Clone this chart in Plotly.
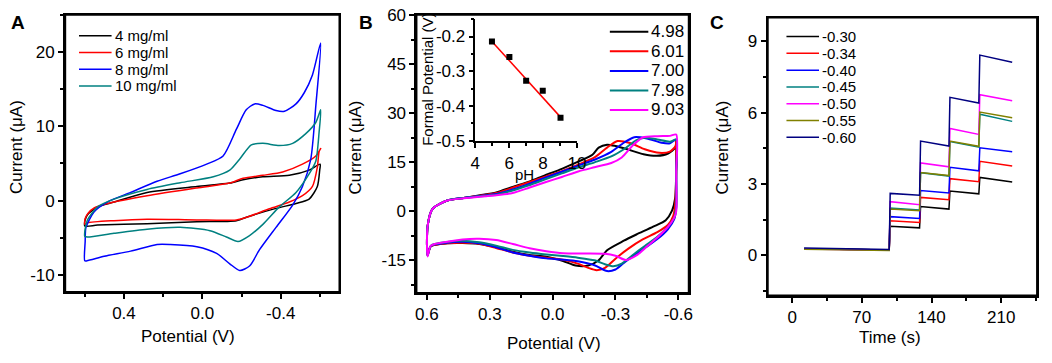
import plotly.graph_objects as go

W, H = 1052, 363
FONT = "Liberation Sans, Arial, Helvetica, sans-serif"

# ---------------- Panel A : CV at different concentrations ----------------
a_labels = ["4 mg/ml", "6 mg/ml", "8 mg/ml", "10 mg/ml"]

a_x_4 = [0.6, 0.598, 0.586, 0.535, 0.451, 0.282, 0.028, -0.14, -0.208, -0.309, -0.444, -0.545, -0.601,
         -0.599, -0.587, -0.545, -0.478, -0.376, -0.241, -0.174, 0.028, 0.282, 0.535, 0.6]
a_y_4 = [-3.4, -2.6, -1.9, -0.85, -0.2, 1.1, 1.9, 2.35, 2.8, 3.2, 3.4, 4.1, 4.9,
         4.1, 1.9, 0.2, -0.4, -1.05, -2.1, -2.7, -2.85, -3.1, -3.3, -3.4]

a_x_6 = [0.6, 0.598, 0.583, 0.552, 0.485, 0.282, 0.028, -0.14, -0.208, -0.309, -0.41, -0.511, -0.579, -0.604,
         -0.596, -0.587, -0.562, -0.511, -0.444, -0.342, -0.241, -0.174, 0.028, 0.282, 0.451, 0.586, 0.6]
a_y_6 = [-3.2, -2.4, -1.7, -1.0, -0.4, 0.65, 1.7, 2.35, 3.0, 3.4, 3.85, 4.9, 6.0, 7.0,
         6.6, 4.5, 1.9, 0.65, -0.2, -1.1, -2.1, -2.6, -2.6, -2.5, -2.7, -3.0, -3.2]

a_x_8 = [0.6, 0.598, 0.594, 0.552, 0.485, 0.366, 0.231, 0.113, -0.022, -0.106, -0.174, -0.224, -0.267,
         -0.309, -0.376, -0.419, -0.478, -0.52, -0.562, -0.604, -0.58, -0.553, -0.511, -0.461, -0.376,
         -0.292, -0.241, -0.191, -0.14, -0.073, 0.028, 0.164, 0.231, 0.366, 0.501, 0.589, 0.6]
a_y_8 = [-8.1, -5.5, -3.6, -1.5, -0.2, 1.1, 2.6, 3.6, 4.9, 6.0, 9.6, 12.2, 13.0,
         12.8, 12.1, 12.0, 13.0, 14.5, 16.9, 21.2, 13.0, 5.5, 1.9, -0.6, -3.6,
         -6.6, -8.8, -9.4, -8.5, -7.1, -6.2, -5.9, -5.9, -6.8, -7.5, -8.1, -8.1]

a_x_10 = [0.6, 0.598, 0.586, 0.535, 0.451, 0.282, 0.113, -0.056, -0.14, -0.191, -0.25, -0.309, -0.393,
          -0.461, -0.528, -0.579, -0.604, -0.596, -0.579, -0.545, -0.478, -0.393, -0.309, -0.241, -0.182,
          -0.123, -0.039, 0.113, 0.282, 0.451, 0.586, 0.6]
a_y_10 = [-4.8, -3.8, -2.6, -0.85, 0.2, 1.5, 2.4, 3.2, 4.1, 5.6, 7.5, 7.7, 7.4,
          7.7, 9.0, 10.5, 12.2, 9.2, 5.3, 3.6, 1.1, -0.85, -3.2, -4.7, -5.5,
          -4.9, -4.05, -3.6, -3.85, -4.4, -4.9, -4.8]

a_xtick_vals = [0.4, 0.0, -0.4]
a_xtick_text = ["0.4", "0.0", "-0.4"]
a_ytick_vals = [-10, 0, 10, 20]
a_ytick_text = ["-10", "0", "10", "20"]

# ---------------- Panel B : CV at different pH ----------------
b_labels = ["4.98", "6.01", "7.00", "7.98", "9.03"]

b_x_498 = [0.597, 0.597, 0.574, 0.503, 0.425, 0.347, 0.269, 0.191, 0.113, 0.035, -0.044, -0.122, -0.19,
           -0.22, -0.26, -0.3, -0.356, -0.434, -0.497, -0.551, -0.587, -0.59,
           -0.59, -0.585, -0.57, -0.54, -0.48, -0.40, -0.34, -0.26, -0.22, -0.17, -0.11, -0.05,
           0.03, 0.11, 0.19, 0.27, 0.35, 0.43, 0.503, 0.581, 0.597]
b_y_498 = [-13.4, -4.7, 0.7, 3.3, 4.1, 4.9, 5.8, 7.5, 9.1, 11.1, 13.0, 15.2, 17.3,
           19.5, 20.4, 20.0, 19.0, 17.5, 17.0, 17.7, 19.6, 21.5,
           12.8, 4.0, 0.2, -2.7, -4.7, -7.1, -9.0, -11.9, -15.0, -16.6, -16.6, -15.2,
           -13.9, -13.4, -12.4, -11.0, -10.0, -9.7, -9.8, -10.7, -13.4]

b_x_601 = [0.597, 0.597, 0.574, 0.503, 0.425, 0.347, 0.269, 0.191, 0.113, 0.035, -0.044, -0.122, -0.2,
           -0.26, -0.31, -0.37, -0.44, -0.51, -0.56, -0.587, -0.59,
           -0.59, -0.585, -0.575, -0.55, -0.5, -0.43, -0.36, -0.3, -0.25, -0.21, -0.17, -0.12, -0.05,
           0.03, 0.11, 0.19, 0.27, 0.35, 0.43, 0.503, 0.581, 0.597]
b_y_601 = [-13.4, -4.7, 0.7, 3.3, 4.1, 4.8, 5.6, 7.2, 8.9, 10.6, 12.3, 14.3, 16.5,
           19.5, 21.5, 20.9, 19.0, 17.9, 18.3, 20.0, 21.8,
           12.0, 2.0, -1.5, -4.2, -6.4, -8.6, -11.5, -14.5, -17.3, -18.0, -17.3, -16.0, -14.8,
           -14.2, -13.6, -12.6, -11.2, -9.9, -9.6, -9.8, -10.7, -13.4]

b_x_700 = [0.597, 0.597, 0.574, 0.503, 0.425, 0.347, 0.269, 0.191, 0.113, 0.035, -0.044, -0.122, -0.2,
           -0.28, -0.34, -0.39, -0.45, -0.52, -0.56, -0.59,
           -0.59, -0.59, -0.58, -0.55, -0.5, -0.44, -0.40, -0.34, -0.30, -0.26, -0.2, -0.12, -0.05,
           0.03, 0.11, 0.19, 0.27, 0.35, 0.43, 0.503, 0.581, 0.597]
b_y_700 = [-13.5, -4.7, 0.7, 3.3, 4.1, 4.7, 5.3, 6.7, 8.4, 10.3, 12.1, 14.0, 15.8,
           18.2, 21.0, 22.7, 22.3, 21.0, 20.8, 22.0,
           12.0, 1.0, -2.5, -5.5, -8.5, -11.2, -13.0, -15.8, -17.8, -18.3, -16.5, -15.3, -14.8,
           -14.4, -13.6, -12.6, -11.0, -9.8, -9.3, -9.6, -10.6, -13.5]

b_x_798 = [0.597, 0.597, 0.574, 0.503, 0.425, 0.347, 0.269, 0.191, 0.113, 0.035, -0.044, -0.122, -0.2,
           -0.28, -0.34, -0.40, -0.44, -0.50, -0.56, -0.59,
           -0.59, -0.59, -0.58, -0.55, -0.5, -0.44, -0.38, -0.33, -0.29, -0.25, -0.2, -0.12, -0.05,
           0.03, 0.11, 0.19, 0.27, 0.35, 0.43, 0.503, 0.581, 0.597]
b_y_798 = [-13.6, -4.7, 0.7, 3.3, 4.1, 4.6, 5.1, 6.4, 8.0, 9.8, 11.6, 13.4, 15.0,
           16.8, 19.0, 21.8, 22.5, 22.0, 21.3, 22.0,
           12.0, 1.5, -2.0, -4.8, -7.8, -10.6, -13.5, -16.0, -16.8, -16.2, -15.0, -14.2, -13.7,
           -13.2, -12.6, -11.8, -10.5, -9.5, -9.0, -9.4, -10.5, -13.6]

b_x_903 = [0.597, 0.597, 0.574, 0.503, 0.425, 0.347, 0.269, 0.191, 0.113, 0.035, -0.044, -0.122, -0.2,
           -0.28, -0.33, -0.38, -0.43, -0.50, -0.56, -0.59,
           -0.59, -0.59, -0.58, -0.55, -0.5, -0.45, -0.40, -0.35, -0.30, -0.25, -0.15, -0.05,
           0.03, 0.11, 0.19, 0.27, 0.35, 0.43, 0.503, 0.581, 0.597]
b_y_903 = [-13.8, -4.7, 0.7, 3.3, 4.0, 4.5, 4.9, 5.6, 7.2, 8.9, 10.5, 12.2, 13.5,
           14.8, 16.5, 20.0, 22.6, 23.0, 23.1, 23.5,
           12.0, 0.0, -2.0, -4.8, -8.0, -10.8, -13.5, -14.9, -13.6, -13.0, -12.9, -12.8,
           -12.2, -11.3, -10.0, -8.8, -8.4, -8.6, -9.3, -10.5, -13.8]

b_xtick_vals = [0.6, 0.3, 0.0, -0.3, -0.6]
b_xtick_text = ["0.6", "0.3", "0.0", "-0.3", "-0.6"]
b_ytick_vals = [-15, 0, 15, 30, 45, 60]
b_ytick_text = ["-15", "0", "15", "30", "45", "60"]

# Inset of panel B : formal potential vs pH
inset_ph = [4.98, 6.01, 7.00, 7.98, 9.03]
inset_e = [-0.214, -0.259, -0.327, -0.356, -0.434]
inset_fit_ph = [4.98, 9.03]
inset_fit_e = [-0.214, -0.432]
inset_xtick_vals = [4, 6, 8, 10]
inset_xtick_text = ["4", "6", "8", "10"]
inset_ytick_vals = [-0.5, -0.4, -0.3, -0.2]
inset_ytick_text = ["-0.5", "-0.4", "-0.3", "-0.2"]

# ---------------- Panel C : amperometric steps ----------------
c_labels = ["-0.30", "-0.34", "-0.40", "-0.45", "-0.50", "-0.55", "-0.60"]
c_time = [12, 97.5, 98.5, 128, 129, 157.5, 158.5, 187.5, 188.5, 221]
c_030 = [0.27, 0.22, 1.22, 1.15, 2.05, 1.94, 2.70, 2.58, 3.27, 3.08]
c_034 = [0.27, 0.22, 1.45, 1.38, 2.43, 2.33, 3.22, 3.09, 3.95, 3.75]
c_040 = [0.27, 0.22, 1.62, 1.54, 2.72, 2.62, 3.70, 3.55, 4.52, 4.35]
c_045 = [0.27, 0.22, 1.98, 1.90, 3.47, 3.33, 4.78, 4.55, 5.93, 5.63]
c_050 = [0.26, 0.21, 2.25, 2.12, 3.88, 3.72, 5.33, 5.08, 6.75, 6.50]
c_055 = [0.25, 0.20, 1.94, 1.87, 3.48, 3.35, 4.80, 4.58, 6.02, 5.78]
c_060 = [0.30, 0.24, 2.60, 2.52, 4.80, 4.59, 6.64, 6.40, 8.42, 8.12]
c_xtick_vals = [0, 70, 140, 210]
c_xtick_text = ["0", "70", "140", "210"]
c_ytick_vals = [0, 3, 6, 9]
c_ytick_text = ["0", "3", "6", "9"]

# ---------------- styling ----------------
a_colors = ["#000000", "#ff0000", "#0000ff", "#008080"]
b_colors = ["#000000", "#ff0000", "#0000ff", "#008080", "#ff00ff"]
c_colors = ["#000000", "#ff0000", "#0000ff", "#008080", "#ff00ff", "#808000", "#000080"]

fig = go.Figure()

a_series = [(a_x_4, a_y_4), (a_x_6, a_y_6), (a_x_8, a_y_8), (a_x_10, a_y_10)]
for (xs, ys), col, lab in zip(a_series, a_colors, a_labels):
    fig.add_trace(go.Scatter(x=xs, y=ys, mode="lines", name=lab, xaxis="x", yaxis="y",
                             line=dict(color=col, width=1.5, shape="spline", smoothing=0.7),
                             showlegend=False))

b_series = [(b_x_498, b_y_498), (b_x_601, b_y_601), (b_x_700, b_y_700), (b_x_798, b_y_798), (b_x_903, b_y_903)]
for (xs, ys), col, lab in zip(b_series, b_colors, b_labels):
    fig.add_trace(go.Scatter(x=xs, y=ys, mode="lines", name=lab, xaxis="x2", yaxis="y2",
                             line=dict(color=col, width=2, shape="spline", smoothing=0.7),
                             showlegend=False))

c_series = [c_030, c_034, c_040, c_045, c_050, c_055, c_060]
for ys, col, lab in zip(c_series, c_colors, c_labels):
    fig.add_trace(go.Scatter(x=c_time, y=ys, mode="lines", name=lab, xaxis="x3", yaxis="y3",
                             line=dict(color=col, width=1.5), showlegend=False))

fig.add_trace(go.Scatter(x=inset_fit_ph, y=inset_fit_e, mode="lines", xaxis="x4", yaxis="y4",
                         line=dict(color="#ff0000", width=1.5), showlegend=False))
fig.add_trace(go.Scatter(x=inset_ph, y=inset_e, mode="markers", xaxis="x4", yaxis="y4",
                         marker=dict(symbol="square", size=6, color="black"), showlegend=False))


def axis(domain, anchor, rng, tv, tt, minor_dtick, mirror=True, lw=2, fs=17):
    return dict(domain=domain, anchor=anchor, range=rng,
                showline=True, linecolor="black", linewidth=lw, mirror=mirror,
                ticks="outside", ticklen=5, tickwidth=1.5, ticklabeloverflow="allow",
                tickcolor="black", showgrid=False, zeroline=False, tickmode="array",
                tickvals=tv, ticktext=tt,
                tickfont=dict(size=fs, color="black", family=FONT),
                minor=dict(ticks="outside", ticklen=3, dtick=minor_dtick, tick0=0, showgrid=False))


def fx(p):
    return p / W


def fy(p):
    return 1 - p / H


PA = (61, 339, 7, 298)
PB = (417, 693, 7, 299)
PC = (773, 1046, 10, 301.7)
PI = (476.7, 580, 11.7, 140)

fig.update_layout(
    width=W, height=H, autosize=False,
    margin=dict(l=0, r=0, t=0, b=0),
    paper_bgcolor="white", plot_bgcolor="rgba(0,0,0,0)",
    font=dict(family=FONT, color="black"),
    showlegend=False,
    xaxis=axis([fx(PA[0]), fx(PA[1])], "y", [0.7, -0.7], a_xtick_vals, a_xtick_text, 0.2),
    yaxis=axis([fy(PA[3]), fy(PA[2])], "x", [-12.3, 25], a_ytick_vals, a_ytick_text, 5),
    xaxis2=axis([fx(PB[0]), fx(PB[1])], "y2", [0.65, -0.65], b_xtick_vals, b_xtick_text, 0.15),
    yaxis2=axis([fy(PB[3]), fy(PB[2])], "x2", [-25, 60.2], b_ytick_vals, b_ytick_text, 7.5),
    xaxis3=axis([fx(PC[0]), fx(PC[1])], "y3", [-24.5, 246], c_xtick_vals, c_xtick_text, 35),
    yaxis3=axis([fy(PC[3]), fy(PC[2])], "x3", [-1.7, 10], c_ytick_vals, c_ytick_text, 1.5),
    xaxis4=axis([fx(PI[0]), fx(PI[1])], "y4", [4, 10.02], inset_xtick_vals, inset_xtick_text, 1,
                mirror=False, lw=1.5),
    yaxis4=axis([fy(PI[3]), fy(PI[2])], "x4", [-0.502, -0.15], inset_ytick_vals, inset_ytick_text, 0.05,
                mirror=False, lw=1.5),
)

# frames in paper coordinates (coincide with the axis lines)
for (l, r, t, b) in [PA, PB, PC]:
    fig.add_shape(type="rect", xref="paper", yref="paper", x0=fx(l), x1=fx(r), y0=fy(b), y1=fy(t),
                  line=dict(color="black", width=2))

# panel letters
for letter, px, py in [("A", 13, 15), ("B", 366, 15), ("C", 722, 15)]:
    fig.add_annotation(xref="paper", yref="paper", x=fx(px), y=fy(py), text="<b>%s</b>" % letter,
                       showarrow=False, xanchor="center", yanchor="middle",
                       font=dict(size=19, family=FONT, color="black"))

# axis titles
titles = [
    ("Current (\u03bcA)", 11, 146, -90, 17),
    ("Potential (V)", 185, 345, 0, 17),
    ("Current (\u03bcA)", 355, 146, -90, 17),
    ("Potential (V)", 556, 352, 0, 17),
    ("Current (\u03bcA)", 727, 146, -90, 17),
    ("Time (s)", 897, 346, 0, 17),
    ("Formal Potential (V)", 428, 75, -90, 15),
    ("pH", 527, 175, 0, 15),
]
for txt, px, py, ang, fs in titles:
    fig.add_annotation(xref="paper", yref="paper", x=fx(px), y=fy(py), text=txt, textangle=ang,
                       showarrow=False, xanchor="center", yanchor="middle",
                       font=dict(size=fs, family=FONT, color="black"))


# legends (drawn as key lines + labels)
def add_legend(labels, colors, x0, x1, y0, dy, fs, lw):
    for i, (lab, col) in enumerate(zip(labels, colors)):
        yy = y0 + i * dy
        fig.add_shape(type="line", xref="paper", yref="paper", x0=fx(x0), x1=fx(x1),
                      y0=fy(yy), y1=fy(yy), line=dict(color=col, width=lw))
        fig.add_annotation(xref="paper", yref="paper", x=fx(x1 + 1), y=fy(yy), text=lab,
                           showarrow=False, xanchor="left", yanchor="middle",
                           font=dict(size=fs, family=FONT, color="black"))


add_legend(a_labels, a_colors, 75, 108, 29, 17.6, 15, 1.5)
add_legend(b_labels, b_colors, 613, 652, 25, 20.5, 17, 2)
add_legend(c_labels, c_colors, 792, 825, 30, 17.6, 15, 1.5)

fig.write_html("out.html", config={"displayModeBar": False},
               post_script="document.body.style.margin='0px';")
